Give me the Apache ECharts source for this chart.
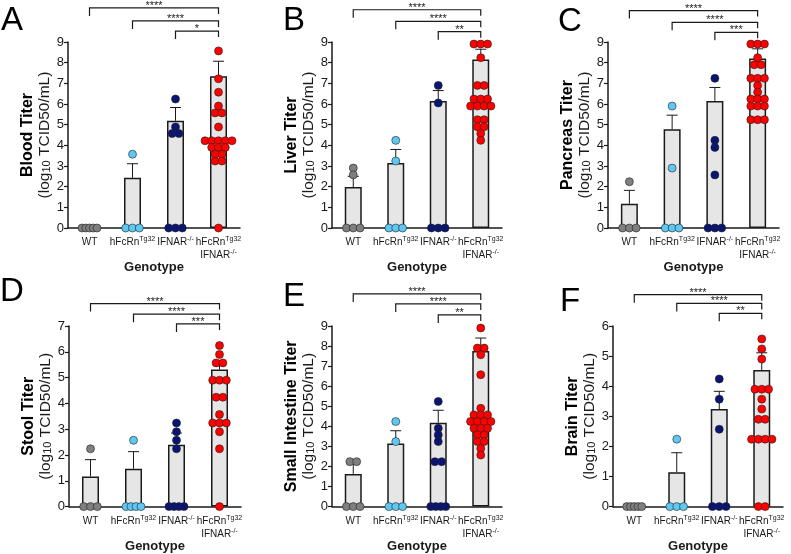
<!DOCTYPE html>
<html lang="en">
<head>
<meta charset="UTF-8">
<title>Tissue titers by genotype</title>
<script src="https://cdn.jsdelivr.net/npm/echarts@6/dist/echarts.min.js"></script>
<style>
html, body {margin: 0; padding: 0; background: #fff;}
#chart {width: 791px; height: 554px;}
</style>
</head>
<body>
<div id="chart"></div>
<script>
// genotypes on the x axis (superscripts handled in the label formatter)
var categories = ['WT', 'hFcRnTg32', 'IFNAR-/-', 'hFcRnTg32 IFNAR-/-'];
var dotColors = ['#7f7f7f', '#5ec8f2', '#0a1572', '#ff0000'];
var comparisons = [[0, 3], [1, 3], [2, 3]];

// A - blood
var bloodMean = [0, 2.43, 5.19, 7.34];
var bloodSem = [0, 0.68, 0.64, 0.73];
var bloodWT = [0, 0, 0, 0, 0];
var bloodHF = [3.57, 0, 0, 0];
var bloodIF = [6.24, 4.89, 4.57, 4.57, 0, 0, 0];
var bloodDbl = [8.57, 7.22, 6.57, 5.9, 5.57, 5.57, 4.89, 4.22, 4.22, 4.22, 4.22, 4.22, 3.9, 3.9, 3.9, 3.57, 3.57, 3.24, 3.24, 0];
var bloodStars = ['****', '****', '*'];
var bloodLevels = [10.65, 10.02, 9.53];

// B - liver
var liverMean = [1.98, 3.15, 6.14, 8.15];
var liverSem = [0.52, 0.65, 0.51, 0.5];
var liverWT = [2.9, 2.57, 0, 0, 0];
var liverHF = [4.24, 3.24, 0, 0, 0];
var liverIF = [6.9, 6.05, 0, 0, 0];
var liverDbl = [8.9, 8.9, 8.9, 8.24, 6.9, 6.9, 6.24, 6.24, 6.24, 5.9, 5.9, 5.9, 5.9, 5.24, 5.24, 4.9, 4.9, 4.57, 4.24];
var liverStars = ['****', '****', '**'];
var liverLevels = [10.56, 10.0, 9.5];

// C - pancreas
var pancMean = [1.17, 4.78, 6.15, 8.2];
var pancSem = [0.65, 0.68, 0.65, 0.47];
var pancWT = [2.24, 0, 0, 0];
var pancHF = [5.9, 2.9, 0, 0, 0];
var pancIF = [7.24, 4.24, 3.9, 2.57, 0, 0, 0];
var pancDbl = [8.9, 8.9, 8.9, 8.24, 7.9, 7.9, 7.24, 7.24, 7.24, 6.9, 6.57, 6.24, 6.24, 6.24, 5.9, 5.9, 5.9, 5.24, 5.24, 5.24];
var pancStars = ['****', '****', '***'];
var pancLevels = [10.52, 9.95, 9.47];

// D - stool
var stoolMean = [1.17, 1.47, 2.4, 5.31];
var stoolSem = [0.65, 0.66, 0.45, 0.25];
var stoolWT = [2.24, 0, 0, 0];
var stoolHF = [2.57, 0, 0, 0, 0];
var stoolIF = [3.24, 2.9, 2.57, 2.24, 0, 0, 0, 0];
var stoolDbl = [6.24, 5.9, 5.57, 5.57, 4.9, 4.9, 4.9, 4.24, 4.24, 3.57, 3.24, 3.24, 3.24, 2.9, 2.24, 0];
var stoolStars = ['****', '****', '***'];
var stoolLevels = [7.87, 7.46, 7.08];

// E - small intestine
var intMean = [1.63, 3.15, 4.18, 7.75];
var intSem = [0.5, 0.63, 0.62, 0.65];
var intWT = [2.24, 2.24, 0, 0, 0];
var intHF = [4.24, 3.24, 0, 0, 0];
var intIF = [5.24, 3.9, 3.57, 3.24, 2.24, 2.24, 0, 0, 0, 0];
var intDbl = [8.9, 7.9, 7.9, 7.57, 6.57, 4.9, 4.57, 4.57, 4.57, 4.24, 4.24, 4.24, 4.24, 3.9, 3.9, 3.9, 3.57, 3.57, 3.24, 3.24, 2.9, 2.57];
var intStars = ['****', '****', '**'];
var intLevels = [10.6, 10.1, 9.55];

// F - brain
var brainMean = [0, 1.14, 3.24, 4.54];
var brainSem = [0, 0.65, 0.59, 0.57];
var brainWT = [0, 0, 0, 0, 0];
var brainHF = [2.24, 0, 0, 0];
var brainIF = [4.24, 3.57, 2.57, 0, 0, 0];
var brainDbl = [5.57, 5.24, 4.9, 3.9, 3.9, 3.9, 3.57, 3.24, 2.9, 2.9, 2.24, 2.24, 2.24, 2.24, 0, 0];
var brainStars = ['****', '****', '**'];
var brainLevels = [7.04, 6.75, 6.42];

var panels = [
	{letter: 'A', title: 'Blood Titer', max: 9, mean: bloodMean, sem: bloodSem, pts: [bloodWT, bloodHF, bloodIF, bloodDbl], stars: bloodStars, levels: bloodLevels},
	{letter: 'B', title: 'Liver Titer', max: 9, mean: liverMean, sem: liverSem, pts: [liverWT, liverHF, liverIF, liverDbl], stars: liverStars, levels: liverLevels},
	{letter: 'C', title: 'Pancreas Titer', max: 9, mean: pancMean, sem: pancSem, pts: [pancWT, pancHF, pancIF, pancDbl], stars: pancStars, levels: pancLevels},
	{letter: 'D', title: 'Stool Titer', max: 7, mean: stoolMean, sem: stoolSem, pts: [stoolWT, stoolHF, stoolIF, stoolDbl], stars: stoolStars, levels: stoolLevels},
	{letter: 'E', title: 'Small Intestine Titer', max: 9, mean: intMean, sem: intSem, pts: [intWT, intHF, intIF, intDbl], stars: intStars, levels: intLevels},
	{letter: 'F', title: 'Brain Titer', max: 6, mean: brainMean, sem: brainSem, pts: [brainWT, brainHF, brainIF, brainDbl], stars: brainStars, levels: brainLevels}
];

// layout: [left, top, width, height] of each plot area, and letter spots
var boxes = [[68, 42, 172, 186], [332, 42, 170, 186], [608, 42, 171, 186],
	[69, 326, 172, 184], [332, 326, 170, 184], [613, 326, 170, 184]];
var letterPos = [[1, 4], [283, 4], [558, 5], [0, 275], [283, 280], [560, 285]];

var FONT = '"Liberation Sans", Arial, Helvetica, sans-serif';
var INK = '#1a1a1a';

function fmtLabel(v) {
	return v.split(' ').map(function (p) {
		var m = p.match(/^(.*?)(Tg32|-\/-)$/);
		return m ? '{n|' + m[1] + '}{s|' + m[2] + '}' : '{n|' + p + '}';
	}).join('\n');
}

// beeswarm-ish spread of equal values
function dots(ptsList) {
	var out = [];
	ptsList.forEach(function (pts, ci) {
		var groups = {};
		pts.forEach(function (v) { (groups[v] = groups[v] || []).push(v); });
		Object.keys(groups).forEach(function (k) {
			var n = groups[k].length;
			var v = +k;
			var step = n > 1 ? Math.min(6.8, (v === 0 ? 15 : 27) / (n - 1)) : 0;
			groups[k].forEach(function (val, j) {
				out.push({
					value: [ci, val],
					symbolOffset: [(j - (n - 1) / 2) * step, 0],
					itemStyle: {color: dotColors[ci]}
				});
			});
		});
	});
	return out;
}

var option = {
	animation: false,
	backgroundColor: '#fff',
	textStyle: {fontFamily: FONT},
	title: [], grid: [], xAxis: [], yAxis: [], series: []
};

panels.forEach(function (p, i) {
	var b = boxes[i];
	option.title.push({
		text: p.letter, left: letterPos[i][0], top: letterPos[i][1], padding: 0,
		textStyle: {fontFamily: FONT, fontSize: 33, fontWeight: 'normal', color: '#000'}
	});
	option.grid.push({left: b[0], top: b[1], width: b[2], height: b[3], containLabel: false});
	option.xAxis.push({
		type: 'category', gridIndex: i, data: categories,
		axisLine: {lineStyle: {color: INK, width: 1.5}},
		axisTick: {alignWithLabel: true, length: 5, lineStyle: {color: INK, width: 1.2}},
		axisLabel: {
			interval: 0, margin: 8, formatter: fmtLabel, color: INK,
			rich: {
				n: {fontFamily: FONT, fontSize: 10, color: INK, lineHeight: 13},
				s: {fontFamily: FONT, fontSize: 7, color: INK, lineHeight: 8, verticalAlign: 'top'}
			}
		},
		name: 'Genotype', nameLocation: 'middle', nameGap: 27,
		nameTextStyle: {fontFamily: FONT, fontSize: 13, fontWeight: 'bold', color: INK}
	});
	option.yAxis.push({
		type: 'value', gridIndex: i, min: 0, max: p.max, interval: 1,
		axisLine: {show: true, lineStyle: {color: INK, width: 1.5}},
		axisTick: {show: true, length: 4, lineStyle: {color: INK, width: 1.2}},
		splitLine: {show: false},
		axisLabel: {fontFamily: FONT, fontSize: 13, color: INK, margin: 4},
		name: '{t|' + p.title + '}\n{n|(log}{sub|10}{n| TCID50/mL)}',
		nameLocation: 'middle', nameGap: 12,
		nameTextStyle: {
			rich: {
				t: {fontFamily: FONT, fontSize: 16, fontWeight: 'bold', color: '#000', lineHeight: 17},
				n: {fontFamily: FONT, fontSize: 15.5, color: INK, lineHeight: 17},
				sub: {fontFamily: FONT, fontSize: 11, color: INK, lineHeight: 11, verticalAlign: 'bottom'}
			}
		}
	});
	option.series.push({
		type: 'bar', xAxisIndex: i, yAxisIndex: i, data: p.mean, barWidth: 17, z: 2,
		itemStyle: {color: '#e6e6e6', borderColor: INK, borderWidth: 1.5}
	});
	option.series.push({
		type: 'custom', xAxisIndex: i, yAxisIndex: i, z: 3, clip: false,
		data: p.mean.map(function (m, k) { return [k, m, p.sem[k]]; }),
		renderItem: function (params, api) {
			var s = api.value(2);
			if (!s) return null;
			var a = api.coord([api.value(0), api.value(1)]);
			var c = api.coord([api.value(0), api.value(1) + s]);
			var st = {stroke: INK, lineWidth: 1};
			return {type: 'group', children: [
				{type: 'line', shape: {x1: a[0], y1: a[1], x2: c[0], y2: c[1]}, style: st},
				{type: 'line', shape: {x1: c[0] - 5.5, y1: c[1], x2: c[0] + 5.5, y2: c[1]}, style: st}
			]};
		}
	});
	option.series.push({
		type: 'scatter', xAxisIndex: i, yAxisIndex: i, z: 4, clip: false,
		symbolSize: 8, data: dots(p.pts),
		itemStyle: {borderColor: '#222', borderWidth: 0.6, opacity: 1}
	});
	option.series.push({
		type: 'custom', xAxisIndex: i, yAxisIndex: i, z: 5, clip: false,
		data: comparisons.map(function (c, k) { return [c[0], c[1], p.levels[k]]; }),
		renderItem: function (params, api) {
			var a = api.coord([api.value(0), api.value(2)]);
			var c = api.coord([api.value(1), api.value(2)]);
			var st = {stroke: INK, lineWidth: 1.2, fill: null};
			return {type: 'group', children: [
				{type: 'polyline', shape: {points: [[a[0], a[1] + 8], [a[0], a[1]], [c[0], c[1]], [c[0], c[1] + 6]]}, style: st},
				{type: 'text', style: {
					text: p.stars[params.dataIndex], x: (a[0] + c[0]) / 2, y: a[1] - 2,
					textAlign: 'center', textVerticalAlign: 'middle',
					font: '11px ' + FONT, fill: INK
				}}
			]};
		}
	});
});

var myChart = echarts.init(document.getElementById('chart'));
myChart.setOption(option);
</script>
</body>
</html>
